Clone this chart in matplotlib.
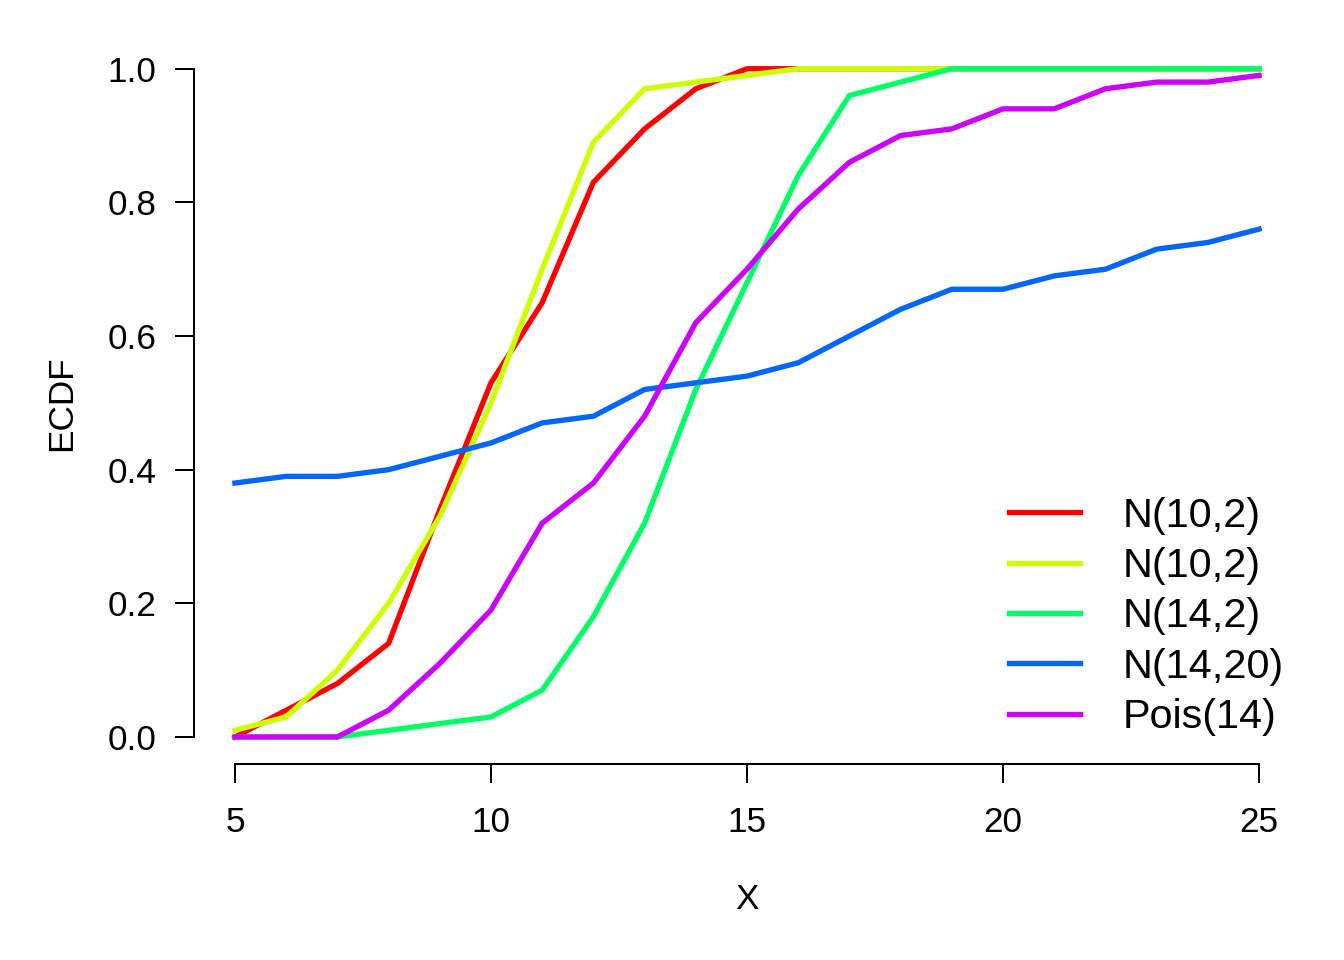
import numpy as np
import matplotlib.pyplot as plt

plt.rcParams["font.family"] = ["Liberation Sans", "DejaVu Sans"]

# ECDF values evaluated at x = 5..25
x = np.arange(5, 26)

labels = ["N(10,2)", "N(10,2)", "N(14,2)", "N(14,20)", "Pois(14)"]
colors = ["#FF0000", "#CCFF00", "#00FF66", "#0066FF", "#CC00FF"]

n10_2_a = [0.00, 0.04, 0.08, 0.14, 0.34, 0.53, 0.65, 0.83, 0.91, 0.97, 1.00,
           1.00, 1.00, 1.00, 1.00, 1.00, 1.00, 1.00, 1.00, 1.00, 1.00]
n10_2_b = [0.01, 0.03, 0.10, 0.20, 0.33, 0.50, 0.70, 0.89, 0.97, 0.98, 0.99,
           1.00, 1.00, 1.00, 1.00, 1.00, 1.00, 1.00, 1.00, 1.00, 1.00]
n14_2 = [0.00, 0.00, 0.00, 0.01, 0.02, 0.03, 0.07, 0.18, 0.32, 0.52, 0.68,
         0.84, 0.96, 0.98, 1.00, 1.00, 1.00, 1.00, 1.00, 1.00, 1.00]
n14_20 = [0.38, 0.39, 0.39, 0.40, 0.42, 0.44, 0.47, 0.48, 0.52, 0.53, 0.54,
          0.56, 0.60, 0.64, 0.67, 0.67, 0.69, 0.70, 0.73, 0.74, 0.76]
pois14 = [0.00, 0.00, 0.00, 0.04, 0.11, 0.19, 0.32, 0.38, 0.48, 0.62, 0.70,
          0.79, 0.86, 0.90, 0.91, 0.94, 0.94, 0.97, 0.98, 0.98, 0.99]

series = [n10_2_a, n10_2_b, n14_2, n14_20, pois14]

W, H = 1344, 960
fig = plt.figure(figsize=(7, 5), dpi=192)
ax = fig.add_axes([194 / W, 1 - 763.7 / H, (1300 - 194) / W, (763.7 - 42) / H])

for y, c, lab in zip(series, colors, labels):
    ax.plot(x, y, color=c, linewidth=2.0, label=lab, solid_joinstyle="miter")

ax.set_xlim(5 - 0.8, 25 + 0.8)
ax.set_ylim(-0.04, 1.04)
ax.set_xticks([5, 10, 15, 20, 25])
ax.set_yticks([0.0, 0.2, 0.4, 0.6, 0.8, 1.0])
ax.set_yticklabels(["0.0", "0.2", "0.4", "0.6", "0.8", "1.0"])

for s in ["top", "right"]:
    ax.spines[s].set_visible(False)
ax.spines["left"].set_bounds(0, 1)
ax.spines["bottom"].set_bounds(5, 25)
for s in ["left", "bottom"]:
    ax.spines[s].set_linewidth(0.75)
ax.tick_params(direction="out", length=7, width=0.75, labelsize=13.2)
ax.tick_params(axis="x", pad=9)
ax.tick_params(axis="y", pad=7)

ax.set_xlabel("X", fontsize=13.2, labelpad=16.5)
ax.set_ylabel("ECDF", fontsize=13.2, labelpad=11)

ax.legend(loc="upper left", bbox_to_anchor=(988 / W, 1 - 476 / H),
          bbox_transform=fig.transFigure, frameon=False, borderpad=0,
          fontsize=15.5, handlelength=1.73, handletextpad=1.02,
          labelspacing=0.3)

fig.savefig("out.png", dpi=192, facecolor="white")
